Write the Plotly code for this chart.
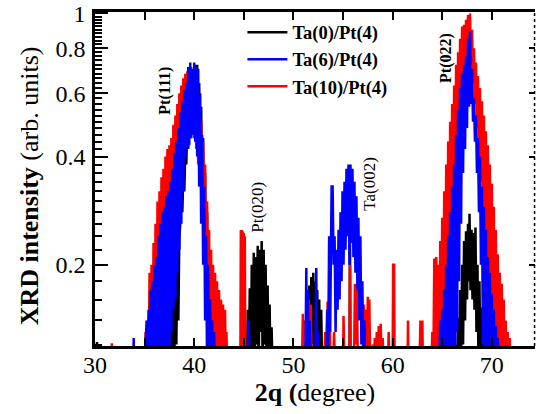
import math
import plotly.graph_objects as go

# ---------------- data ----------------
# Ta(0)/Pt(4)  (black)
ta0_x = [30.1, 30.2, 30.3,
         37.4, 37.5, 37.6, 37.7, 37.8, 37.9, 38.0, 38.1, 38.2, 38.3, 38.4, 38.5, 38.6, 38.7, 38.8, 38.9,
         39.0, 39.1, 39.2, 39.3, 39.4, 39.5, 39.6, 39.7, 39.8, 39.9, 40.0, 40.1, 40.2, 40.3, 40.4, 40.5,
         40.6, 40.7, 40.8, 40.9, 41.0, 41.1, 41.2, 41.3, 41.4, 41.5, 41.6, 41.65, 41.75, 41.8, 41.9, 41.95, 42.05,
         45.3, 45.4, 45.5, 45.6, 45.7, 45.8, 45.9, 46.0, 46.1, 46.2, 46.3, 46.4, 46.5, 46.6, 46.7, 46.8,
         46.9, 47.0, 47.1, 47.2, 47.3, 47.4, 47.5, 47.6, 47.7, 47.8, 47.9,
         51.1, 51.2, 51.3, 51.4, 51.5, 51.6, 51.7, 51.8, 51.9, 52.0, 52.1, 52.2, 52.3, 52.4, 52.5, 52.6,
         52.7, 52.8, 52.9,
         55.65, 55.7, 55.75,
         66.3, 66.4, 66.5, 66.6, 66.7, 66.8, 66.9, 67.0, 67.1, 67.2, 67.3, 67.4, 67.5, 67.6, 67.7, 67.75,
         67.85, 67.95, 68.05, 68.15, 68.25, 68.35, 68.45, 68.55, 68.65, 68.75, 68.85, 68.95, 69.05, 69.1, 69.2]
ta0_y = [0.1, 0.122, 0.1,
         0.1, 0.13, 0.1, 0.15, 0.1, 0.17, 0.11, 0.19, 0.12, 0.21, 0.14, 0.24, 0.26, 0.3, 0.28, 0.36,
         0.32, 0.42, 0.38, 0.5, 0.42, 0.58, 0.45, 0.65, 0.47, 0.7, 0.48, 0.72, 0.47, 0.72, 0.44, 0.64,
         0.38, 0.55, 0.3, 0.45, 0.22, 0.36, 0.15, 0.28, 0.12, 0.2, 0.1, 0.16, 0.1, 0.14, 0.1, 0.125, 0.1,
         0.1, 0.15, 0.1, 0.172, 0.1, 0.2, 0.11, 0.216, 0.1, 0.21, 0.12, 0.226, 0.1, 0.22, 0.13, 0.233,
         0.1, 0.22, 0.12, 0.2, 0.1, 0.175, 0.1, 0.155, 0.1, 0.134, 0.1,
         0.1, 0.13, 0.1, 0.16, 0.11, 0.175, 0.1, 0.185, 0.12, 0.19, 0.1, 0.18, 0.11, 0.17, 0.1, 0.16,
         0.1, 0.15, 0.1,
         0.1, 0.237, 0.1,
         0.1, 0.12, 0.1, 0.142, 0.1, 0.17, 0.11, 0.2, 0.12, 0.233, 0.14, 0.248, 0.16, 0.26, 0.18, 0.277,
         0.17, 0.25, 0.16, 0.245, 0.15, 0.254, 0.13, 0.2, 0.11, 0.18, 0.1, 0.152, 0.1, 0.12, 0.1]

# Ta(6)/Pt(4)  (blue)
ta6_x = [33.85, 33.9, 33.95,
         35.0, 35.2, 35.3, 35.4, 35.5, 35.6, 35.7, 35.8, 35.9, 36.0, 36.1, 36.2, 36.3, 36.4, 36.5, 36.6,
         36.7, 36.8, 36.9, 37.0, 37.1, 37.2, 37.3, 37.4, 37.5, 37.6, 37.7, 37.8, 37.9, 38.0, 38.1, 38.2,
         38.3, 38.4, 38.5, 38.6, 38.7, 38.8, 38.9, 39.0, 39.1, 39.2, 39.3, 39.4, 39.5, 39.6, 39.7, 39.8,
         39.9, 40.0, 40.1, 40.2, 40.3, 40.4, 40.5, 40.6, 40.7, 40.8, 40.9, 41.0, 41.1, 41.2, 41.3, 41.4,
         41.5, 41.6, 41.7, 41.8, 41.9, 42.0, 42.1,
         45.4, 45.5, 45.6,
         51.2, 51.3, 51.35, 51.45, 51.55, 51.65, 51.75, 52.2, 52.3, 52.4, 52.5, 52.6,
         53.3, 53.4, 53.5, 53.6, 53.7, 53.85, 53.95, 54.05, 54.15, 54.25, 54.35, 54.45, 54.55, 54.65,
         54.75, 54.85, 54.95, 55.05, 55.15, 55.25, 55.35, 55.45, 55.55, 55.65, 55.75, 55.85, 55.95,
         56.05, 56.15, 56.25, 56.35, 56.45, 56.55, 56.65, 56.75, 56.85, 56.95, 57.05, 57.15, 57.25,
         64.7, 64.8, 64.9, 65.0, 65.1, 65.2, 65.3, 65.4, 65.5, 65.6, 65.7, 65.8, 65.9, 66.0, 66.1, 66.2,
         66.3, 66.4, 66.5, 66.6, 66.7, 66.8, 66.9, 67.0, 67.1, 67.2, 67.3, 67.4, 67.5, 67.6, 67.7, 67.8,
         67.9, 68.0, 68.1, 68.2, 68.3, 68.4, 68.5, 68.6, 68.7, 68.8, 68.9, 69.0, 69.1, 69.2, 69.3, 69.4,
         69.5, 69.6, 69.7, 69.8, 69.9, 70.0, 70.1, 70.2, 70.3, 70.4, 70.5, 70.6, 70.7]
ta6_y = [0.1, 0.125, 0.1,
         0.1, 0.14, 0.1, 0.15, 0.1, 0.17, 0.1, 0.18, 0.1, 0.2, 0.1, 0.21, 0.1, 0.24, 0.1, 0.26,
         0.1, 0.28, 0.11, 0.29, 0.1, 0.31, 0.11, 0.32, 0.1, 0.34, 0.13, 0.37, 0.15, 0.41, 0.16, 0.44,
         0.19, 0.48, 0.22, 0.53, 0.26, 0.57, 0.32, 0.61, 0.4, 0.64, 0.42, 0.71, 0.43, 0.73, 0.45, 0.7,
         0.46, 0.73, 0.44, 0.71, 0.4, 0.7, 0.33, 0.6, 0.26, 0.46, 0.2, 0.33, 0.14, 0.24, 0.1, 0.2,
         0.1, 0.16, 0.1, 0.14, 0.1, 0.13, 0.1,
         0.1, 0.14, 0.1,
         0.1, 0.196, 0.1, 0.17, 0.1, 0.14, 0.1, 0.1, 0.196, 0.1, 0.13, 0.1,
         0.1, 0.15, 0.11, 0.24, 0.13, 0.33, 0.33, 0.2, 0.24, 0.13, 0.22, 0.15, 0.25, 0.16,
         0.28, 0.18, 0.32, 0.2, 0.34, 0.22, 0.37, 0.24, 0.38, 0.2, 0.38, 0.23, 0.37,
         0.21, 0.34, 0.19, 0.31, 0.17, 0.27, 0.14, 0.24, 0.12, 0.18, 0.1, 0.14, 0.1,
         0.1, 0.14, 0.1, 0.15, 0.1, 0.17, 0.1, 0.2, 0.1, 0.24, 0.1, 0.28, 0.1, 0.33, 0.11, 0.38,
         0.1, 0.46, 0.13, 0.54, 0.18, 0.62, 0.26, 0.68, 0.36, 0.72, 0.42, 0.76, 0.48, 0.85, 0.55, 0.89,
         0.56, 0.7, 0.5, 0.58, 0.44, 0.52, 0.36, 0.45, 0.28, 0.4, 0.2, 0.33, 0.12, 0.29, 0.1, 0.25,
         0.1, 0.21, 0.1, 0.19, 0.1, 0.166, 0.1, 0.15, 0.1, 0.135, 0.1, 0.125, 0.1]

# Ta(10)/Pt(4)  (red)
ta10_x = [31.65, 31.7, 31.75,
          35.0, 35.1, 35.2, 35.3, 35.4, 35.5, 35.6, 35.7, 35.8, 35.9, 36.0, 36.1, 36.2, 36.3, 36.4, 36.5,
          36.6, 36.7, 36.8, 36.9, 37.0, 37.1, 37.2, 37.3, 37.4, 37.5, 37.6, 37.7, 37.8, 37.9, 38.0, 38.1,
          38.2, 38.3, 38.4, 38.5, 38.6, 38.7, 38.8, 38.9, 39.0, 39.1, 39.2, 39.3, 39.4, 39.5, 39.6, 39.7,
          39.8, 39.9, 40.0, 40.1, 40.2, 40.3, 40.4, 40.5, 40.6, 40.7, 40.8, 40.9, 41.0, 41.1, 41.2, 41.3,
          41.4, 41.5, 41.6, 41.7, 41.8, 41.9, 42.0, 42.1, 42.2, 42.3, 42.4, 42.5, 42.6, 42.7, 42.8, 42.9,
          43.0, 43.1, 43.2, 43.25, 43.35,
          44.65, 44.7, 44.75, 44.8, 44.85, 44.9, 44.95, 45.0, 45.05, 45.1, 45.15,
          50.85, 50.95, 51.05, 51.15, 51.25, 51.35, 51.45, 51.55, 51.65, 51.75, 51.85,
          53.1, 53.2, 53.3, 53.45, 53.55, 53.65, 53.75, 54.0, 54.1, 54.2,
          55.0, 55.05, 55.15, 55.65, 55.7, 55.75, 56.1, 56.2, 56.3, 56.4, 56.5,
          57.0, 57.1, 57.2, 57.3, 57.4, 57.5, 57.6, 57.65, 57.75,
          57.9, 58.0, 58.1, 58.2, 58.3, 58.4, 58.5, 58.6, 58.7, 58.8, 58.9, 59.0, 59.1,
          59.5, 59.6, 59.7, 60.0, 60.05, 60.15, 60.2, 61.5, 61.55, 61.6,
          62.7, 62.8, 62.85, 62.9, 62.95, 63.0, 63.05,
          63.9, 64.0, 64.1, 64.2, 64.3, 64.4, 64.5, 64.6, 64.7, 64.8, 64.9, 65.0, 65.1, 65.2, 65.3, 65.4,
          65.5, 65.6, 65.7, 65.8, 65.9, 66.0, 66.1, 66.2, 66.3, 66.4, 66.5, 66.6, 66.7, 66.8, 66.9, 67.0,
          67.1, 67.2, 67.3, 67.4, 67.5, 67.6, 67.7, 67.8, 67.9, 68.0, 68.1, 68.2, 68.3, 68.4, 68.5, 68.6,
          68.7, 68.8, 68.9, 69.0, 69.1, 69.2, 69.3, 69.4, 69.5, 69.6, 69.7, 69.8, 69.9, 70.0, 70.1, 70.2,
          70.3, 70.4, 70.5, 70.6, 70.7, 70.8, 70.9, 71.0, 71.1, 71.2, 71.3, 71.4, 71.5, 71.6, 71.7, 71.8,
          71.9]
ta10_y = [0.1, 0.121, 0.1,
          0.1, 0.13, 0.1, 0.14, 0.1, 0.19, 0.1, 0.2, 0.1, 0.23, 0.1, 0.26, 0.1, 0.3, 0.11, 0.32,
          0.12, 0.35, 0.13, 0.37, 0.15, 0.4, 0.17, 0.42, 0.19, 0.43, 0.22, 0.45, 0.25, 0.49, 0.28, 0.52,
          0.3, 0.56, 0.33, 0.6, 0.36, 0.63, 0.4, 0.66, 0.42, 0.68, 0.44, 0.69, 0.45, 0.7, 0.46, 0.71,
          0.46, 0.7, 0.45, 0.68, 0.42, 0.64, 0.38, 0.6, 0.33, 0.5, 0.28, 0.44, 0.22, 0.38, 0.16, 0.3,
          0.12, 0.25, 0.1, 0.22, 0.1, 0.2, 0.1, 0.19, 0.1, 0.18, 0.1, 0.17, 0.1, 0.16, 0.1, 0.155,
          0.1, 0.15, 0.1, 0.13, 0.1,
          0.1, 0.25, 0.1, 0.25, 0.1, 0.248, 0.1, 0.245, 0.1, 0.24, 0.1,
          0.1, 0.146, 0.1, 0.14, 0.1, 0.16, 0.1, 0.16, 0.12, 0.155, 0.1,
          0.1, 0.13, 0.1, 0.158, 0.1, 0.15, 0.1, 0.1, 0.13, 0.1,
          0.1, 0.144, 0.1, 0.1, 0.2, 0.1, 0.1, 0.177, 0.12, 0.175, 0.1,
          0.1, 0.155, 0.12, 0.15, 0.1, 0.163, 0.1, 0.16, 0.1,
          0.1, 0.12, 0.1, 0.125, 0.1, 0.13, 0.1, 0.135, 0.1, 0.137, 0.1, 0.125, 0.1,
          0.1, 0.13, 0.1, 0.1, 0.2, 0.2, 0.1, 0.1, 0.14, 0.1,
          0.1, 0.14, 0.1, 0.14, 0.1, 0.14, 0.1,
          0.1, 0.13, 0.1, 0.208, 0.1, 0.21, 0.1, 0.2, 0.1, 0.233, 0.11, 0.27, 0.12, 0.32, 0.14, 0.38,
          0.16, 0.44, 0.19, 0.5, 0.23, 0.56, 0.27, 0.63, 0.33, 0.72, 0.4, 0.78, 0.47, 0.85, 0.55, 0.92,
          0.62, 0.93, 0.68, 0.96, 0.72, 0.99, 0.8, 1.0, 0.72, 0.9, 0.64, 0.8, 0.56, 0.73, 0.48, 0.67,
          0.4, 0.62, 0.34, 0.57, 0.28, 0.52, 0.23, 0.47, 0.19, 0.43, 0.16, 0.38, 0.13, 0.336, 0.1, 0.29,
          0.1, 0.25, 0.1, 0.214, 0.1, 0.19, 0.1, 0.177, 0.1, 0.16, 0.1, 0.14, 0.1, 0.13, 0.1, 0.125,
          0.1]

series_names = ["Ta(0)/Pt(4)", "Ta(6)/Pt(4)", "Ta(10)/Pt(4)"]
peak_labels = ["Pt(111)", "Pt(020)", "Ta(002)", "Pt(022)"]
peak_label_x = [37.06, 46.43, 57.72, 65.38]
peak_label_y = [0.61, 0.288, 0.336, 0.752]
y_tick_vals = [0.2, 0.4, 0.6, 0.8, 1.0]
y_tick_text = ["0.2", "0.4", "0.6", "0.8", "1"]
x_tick_vals = [30, 35, 40, 45, 50, 55, 60, 65, 70]
x_tick_text = ["30", "", "40", "", "50", "", "60", "", "70"]
y_title = "<b>XRD intensity</b> (arb. units)"
x_title = "<b>2q (</b>degree)"

# ---------------- figure ----------------
FONT = "Liberation Serif, Times New Roman, Times, serif"
YR = [-0.925, 0.004]
fig = go.Figure()
fig.add_trace(go.Scatter(x=ta0_x, y=ta0_y, mode="lines", name=series_names[0], legendrank=1,
                         line=dict(color="#000000", width=2.5, simplify=False)))
fig.add_trace(go.Scatter(x=ta10_x, y=ta10_y, mode="lines", name=series_names[2], legendrank=3,
                         line=dict(color="#ff0000", width=2.5, simplify=False)))
fig.add_trace(go.Scatter(x=ta6_x, y=ta6_y, mode="lines", name=series_names[1], legendrank=2,
                         line=dict(color="#0000ff", width=2.5, simplify=False)))
for ax in ("y2", "y3"):
    fig.add_trace(go.Scatter(x=[31], y=[0.05], yaxis=ax, mode="lines", showlegend=False,
                             hoverinfo="skip"))

minor_y = [round(0.12 + 0.02 * i, 2) for i in range(44)]
minor_y = [v for v in minor_y if v not in (0.2, 0.4, 0.6, 0.8) and v < 1.0]

for txt, xx, yy in zip(peak_labels, peak_label_x, peak_label_y):
    bold = txt in ("Pt(111)", "Pt(022)")
    fig.add_annotation(x=xx, y=math.log10(yy), xref="x", yref="y",
                       text=("<b>%s</b>" % txt) if bold else txt, textangle=-90, showarrow=False,
                       font=dict(family=FONT, size=16 if bold else 17, color="black"))

# y-axis title placed as a rotated annotation
fig.add_annotation(x=-0.15, y=0.478, xref="paper", yref="paper", text=y_title, textangle=-90,
                   showarrow=False, xanchor="center", yanchor="middle",
                   font=dict(family=FONT, size=26, color="black"))

fig.add_shape(type="line", xref="paper", yref="paper", x0=0.999, x1=0.999, y0=0, y1=1,
              line=dict(color="black", width=1.5, dash="dot"))

fig.update_layout(
    width=536, height=414,
    margin=dict(l=95, r=1, t=12, b=68),
    paper_bgcolor="white", plot_bgcolor="white",
    font=dict(family=FONT, color="black", size=24),
    showlegend=True,
    legend=dict(x=0.335, y=0.995, xanchor="left", yanchor="top", bgcolor="rgba(0,0,0,0)",
                font=dict(family=FONT, size=18.5, color="black", weight="bold"),
                tracegroupgap=0, itemwidth=40),
    xaxis=dict(range=[30, 74.35], showgrid=False, zeroline=False, showline=True, linecolor="black",
               linewidth=2.5, mirror="ticks", ticks="inside", ticklen=8, tickwidth=2,
               tickcolor="black", automargin=False, ticklabelstandoff=-5,
               tickmode="array", tickvals=x_tick_vals, ticktext=x_tick_text,
               tickfont=dict(family=FONT, size=24, color="black"),
               title=dict(text=x_title, font=dict(family=FONT, size=26, color="black"),
                          standoff=2)),
    yaxis=dict(type="log", range=YR, showgrid=False, zeroline=False, showline=True,
               linecolor="black", linewidth=2.5, mirror=False, ticks="inside", ticklen=13, tickwidth=2,
               tickcolor="black", automargin=False, ticklabelstandoff=2, ticklabeloverflow="allow",
               tickmode="array", tickvals=y_tick_vals, ticktext=y_tick_text,
               tickfont=dict(family=FONT, size=24, color="black")),
    yaxis2=dict(type="log", range=YR, overlaying="y", side="left", showgrid=False,
                zeroline=False, showline=False, ticks="inside", ticklen=7, tickwidth=2,
                tickcolor="black", tickmode="array", tickvals=minor_y, showticklabels=False,
                automargin=False),
    yaxis3=dict(type="log", range=YR, overlaying="y", side="right", showgrid=False,
                zeroline=False, showline=False, ticks="inside", ticklen=6, tickwidth=1.5,
                tickcolor="black", tickmode="array", tickvals=[0.2, 0.4, 0.6, 0.8],
                showticklabels=False, automargin=False),
)

fig.write_html("out.html", config={"displayModeBar": False},
               post_script="document.body.style.margin='0px';document.body.style.overflow='hidden';")
